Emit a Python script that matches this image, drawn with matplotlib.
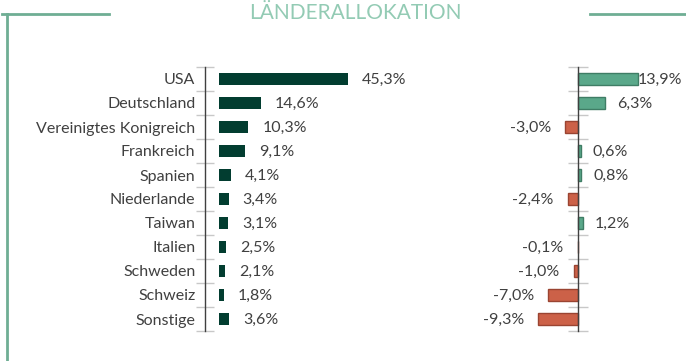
import matplotlib.pyplot as plt
from matplotlib.lines import Line2D
from matplotlib.ticker import FixedLocator, NullLocator

plt.rcParams['font.family'] = ['Lato', 'DejaVu Sans']

laender = ['USA', 'Deutschland', 'Vereinigtes Konigreich', 'Frankreich', 'Spanien',
           'Niederlande', 'Taiwan', 'Italien', 'Schweden', 'Schweiz', 'Sonstige']
gewicht = [45.3, 14.6, 10.3, 9.1, 4.1, 3.4, 3.1, 2.5, 2.1, 1.8, 3.6]
differenz = [13.9, 6.3, -3.0, 0.6, 0.8, -2.4, 1.2, -0.1, -1.0, -7.0, -9.3]

W, H = 686, 361
txt = '#404040'
dunkelgruen = '#023d30'
gruen, gruen_rand = '#5aa88a', '#3f7d65'
rot, rot_rand = '#cc6148', '#9a4432'
rahmen = '#6fae94'

fig = plt.figure(figsize=(W / 100, H / 100), dpi=100)

# rows from y=67 to y=331 px
bot, hgt = (H - 331) / H, 264 / H
pos = list(range(len(laender)))
grenzen = [i - 0.5 for i in range(len(laender) + 1)]

# left: portfolio weights
ax1 = fig.add_axes([205 / W, bot, 245 / W, hgt])
sc1 = 2.85
x0 = -14 / sc1
ax1.barh(pos, gewicht, height=0.5, color=dunkelgruen)
ax1.set_xlim(x0, x0 + 245 / sc1)
ax1.set_ylim(len(laender) - 0.5, -0.5)
for s in ['top', 'right', 'bottom']:
    ax1.spines[s].set_visible(False)
ax1.spines['left'].set_color(txt)
ax1.spines['left'].set_linewidth(1)
ax1.set_xticks([])
ax1.set_yticks(pos)
ax1.set_yticklabels(laender, fontsize=11.5, color=txt)
ax1.yaxis.set_minor_locator(FixedLocator(grenzen))
ax1.tick_params(axis='y', which='major', length=0, pad=7)
ax1.tick_params(axis='y', which='minor', direction='inout', length=13, color='#c8c8c8', width=1)
for i, v in enumerate(gewicht):
    ax1.text(v + 14 / sc1, i + 0.04, f'{v:.1f}%'.replace('.', ','), va='center', ha='left',
             fontsize=11.5, color=txt)

# right: difference to benchmark
ax2 = fig.add_axes([480 / W, bot, 206 / W, hgt])
sc2 = 4.32
farben = [gruen if v >= 0 else rot for v in differenz]
raender = [gruen_rand if v >= 0 else rot_rand for v in differenz]
ax2.barh(pos, differenz, height=0.5, color=farben, edgecolor=raender, linewidth=1)
ax2.set_xlim(-98 / sc2, 108 / sc2)
ax2.set_ylim(len(laender) - 0.5, -0.5)
for s in ['top', 'right', 'bottom']:
    ax2.spines[s].set_visible(False)
ax2.spines['left'].set_position(('data', 0))
ax2.spines['left'].set_color(txt)
ax2.spines['left'].set_linewidth(1)
ax2.set_xticks([])
ax2.yaxis.set_major_locator(NullLocator())
ax2.yaxis.set_minor_locator(FixedLocator(grenzen))
ax2.tick_params(axis='y', which='minor', direction='inout', length=14.4, color='#c8c8c8', width=1)
# labels are pushed back inside when they would run past the right edge
lab_max = 60 / sc2
for i, v in enumerate(differenz):
    s = f'{v:.1f}%'.replace('.', ',')
    if v >= 0:
        ax2.text(min(v + 12 / sc2, lab_max), i + 0.04, s, va='center', ha='left',
                 fontsize=11.5, color=txt)
    else:
        ax2.text(v - 14 / sc2, i + 0.04, s, va='center', ha='right', fontsize=11.5, color=txt)

# title and frame lines
fig.text(355 / W, 1 - 19 / H, 'LÄNDERALLOKATION', ha='center', va='baseline',
         fontsize=15, color='#93cbb4')
ly = 1 - 14 / H
fig.add_artist(Line2D([2 / W, 109 / W], [ly, ly], color=rahmen, lw=2))
fig.add_artist(Line2D([7 / W, 7 / W], [ly, 0], color=rahmen, lw=2))
fig.add_artist(Line2D([590 / W, 1], [ly, ly], color=rahmen, lw=2))

fig.savefig('out.png', dpi=100)
